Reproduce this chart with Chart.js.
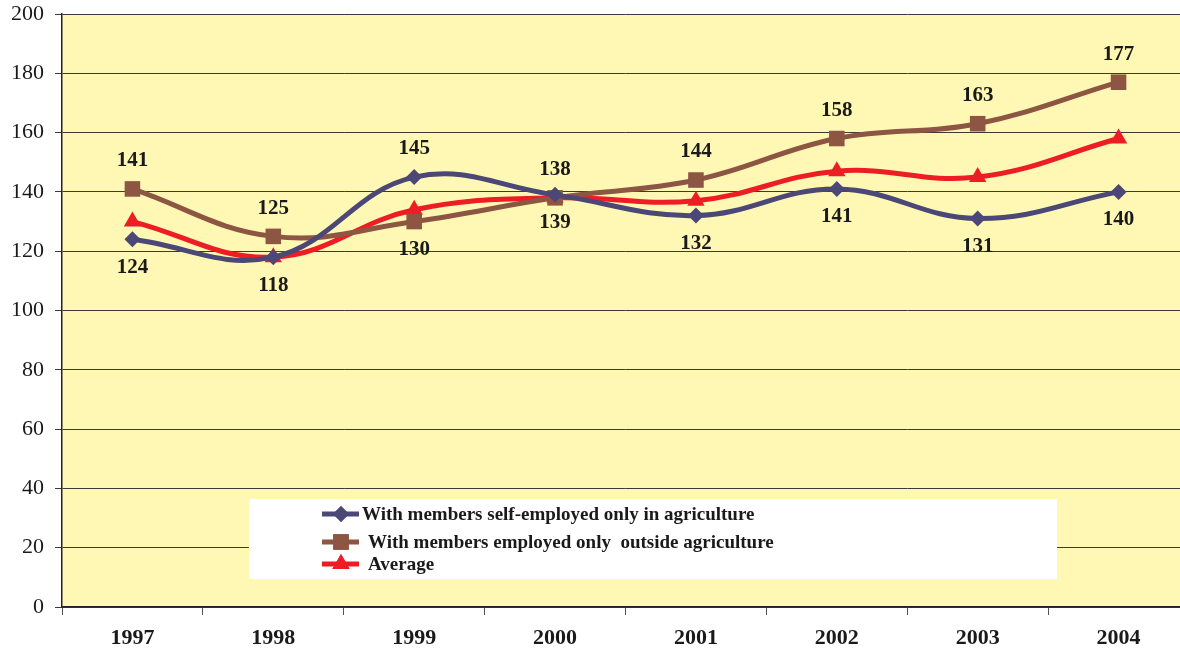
<!DOCTYPE html>
<html>
<head>
<meta charset="utf-8">
<script src="https://cdn.jsdelivr.net/npm/chart.js@4"></script>
<style>
  html, body { margin: 0; padding: 0; background: #fff; overflow: hidden; }
  #wrap { width: 1200px; height: 652px; }
</style>
</head>
<body>
<div id="wrap"><canvas id="ingresosChart" width="1200" height="652"></canvas></div>
<script>
// Años y series
const years = ['1997', '1998', '1999', '2000', '2001', '2002', '2003', '2004'];
const selfEmployedAgri = [124, 118, 145, 139, 132, 141, 131, 140];
const employedOutside = [141, 125, 130, 138, 144, 158, 163, 177];
const average = [130, 118, 134, 138, 137, 147, 145, 158];
const yTicks = [0, 20, 40, 60, 80, 100, 120, 140, 160, 180, 200];

const serif = '"Liberation Serif", "DejaVu Serif", serif';

// Fondo amarillo del área del gráfico
const fondoPlugin = {
    id: 'fondo',
    beforeDraw(chart) {
        const { ctx, chartArea: a } = chart;
        ctx.save();
        ctx.fillStyle = '#fff8b4';
        ctx.fillRect(a.left, a.top, a.right - a.left, a.bottom - a.top);
        ctx.restore();
    }
};

// Etiquetas de valores (arriba o abajo del punto)
const etiquetasPlugin = {
    id: 'etiquetas',
    afterDatasetsDraw(chart) {
        const ctx = chart.ctx;
        const abajo = { 0: [0, 1, 3, 4, 5, 6, 7], 1: [2] };
        ctx.save();
        ctx.font = 'bold 21px ' + serif;
        ctx.fillStyle = '#1a1a1a';
        ctx.textAlign = 'center';
        ctx.textBaseline = 'middle';
        [0, 1].forEach(i => {
            const meta = chart.getDatasetMeta(i);
            const data = chart.data.datasets[i].data;
            meta.data.forEach((pt, j) => {
                const dy = abajo[i].includes(j) ? 28 : -28;
                ctx.fillText(String(data[j]), pt.x, pt.y + dy);
            });
        });
        ctx.restore();
    }
};

// Leyenda en recuadro blanco dentro del gráfico
const leyendaPlugin = {
    id: 'leyenda',
    afterDraw(chart) {
        const ctx = chart.ctx;
        ctx.save();
        ctx.fillStyle = '#ffffff';
        ctx.fillRect(249, 499, 808, 80);
        const filas = [
            { y: 514, lx: 322, tx: 362 },
            { y: 542, lx: 322, tx: 368 },
            { y: 564, lx: 322, tx: 368 }
        ];
        chart.data.datasets.forEach((ds, i) => {
            const f = filas[i];
            ctx.strokeStyle = ds.borderColor;
            ctx.lineWidth = 5;
            ctx.beginPath();
            ctx.moveTo(f.lx, f.y);
            ctx.lineTo(f.lx + 37, f.y);
            ctx.stroke();
            ctx.fillStyle = ds.borderColor;
            ctx.beginPath();
            Chart.helpers.drawPoint(ctx, {
                pointStyle: ds.pointStyle,
                radius: ds.pointRadius,
                borderWidth: 0
            }, f.lx + 19, f.y);
            ctx.fill();
            ctx.fillStyle = '#1a1a1a';
            ctx.font = 'bold 19px ' + serif;
            ctx.textBaseline = 'middle';
            ctx.fillText(ds.label, f.tx, f.y + 1);
        });
        ctx.restore();
    }
};

const ctx = document.getElementById('ingresosChart').getContext('2d');
new Chart(ctx, {
    type: 'line',
    data: {
        labels: years,
        datasets: [
            {
                label: 'With members self-employed only in agriculture',
                data: selfEmployedAgri,
                borderColor: '#4b4777',
                backgroundColor: '#4b4777',
                borderWidth: 5,
                pointStyle: 'rectRot',
                pointRadius: 8,
                pointBorderWidth: 0,
                tension: 0.4
            },
            {
                label: 'With members employed only  outside agriculture',
                data: employedOutside,
                borderColor: '#8c5643',
                backgroundColor: '#8c5643',
                borderWidth: 5,
                pointStyle: 'rect',
                pointRadius: 11,
                pointBorderWidth: 0,
                tension: 0.4
            },
            {
                label: 'Average',
                data: average,
                borderColor: '#ee1c24',
                backgroundColor: '#ee1c24',
                borderWidth: 5,
                pointStyle: 'triangle',
                pointRadius: 10,
                pointBorderWidth: 0,
                tension: 0.4
            }
        ]
    },
    options: {
        responsive: false,
        animation: false,
        layout: { padding: { top: 14, right: 0, bottom: 0, left: 0 } },
        plugins: {
            legend: { display: false },
            tooltip: { enabled: false }
        },
        scales: {
            x: {
                offset: true,
                grid: {
                    offset: true,
                    drawOnChartArea: false,
                    drawTicks: true,
                    tickLength: 8,
                    color: '#555'
                },
                border: { color: '#222', width: 1.5 },
                ticks: {
                    color: '#1a1a1a',
                    font: { family: serif, size: 22, weight: 'bold' },
                    padding: 10
                },
                afterFit(scale) { scale.height = 45; }
            },
            y: {
                min: 0,
                max: 200,
                afterBuildTicks(scale) {
                    scale.ticks = yTicks.map(v => ({ value: v }));
                },
                grid: {
                    color: '#3a3a3a',
                    lineWidth: 1,
                    tickLength: 7
                },
                border: { color: '#222', width: 1.5 },
                ticks: {
                    color: '#1a1a1a',
                    font: { family: serif, size: 22 },
                    padding: 11
                },
                afterFit(scale) {
                    scale.width = 62;
                    scale.paddingTop = 0;
                    scale.paddingBottom = 0;
                }
            }
        }
    },
    plugins: [fondoPlugin, etiquetasPlugin, leyendaPlugin]
});
</script>
</body>
</html>
